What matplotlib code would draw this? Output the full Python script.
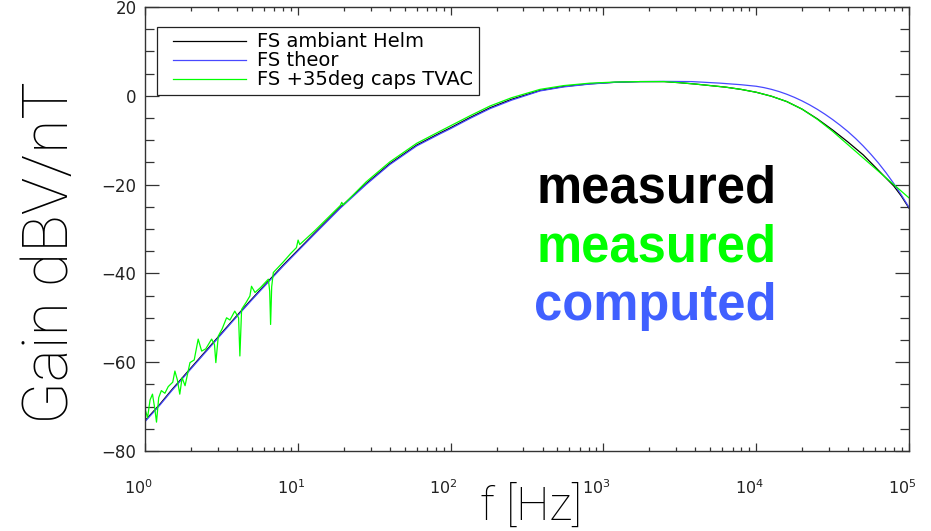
import matplotlib
matplotlib.use('Agg')
import matplotlib.pyplot as plt
import matplotlib.transforms as mtransforms
from matplotlib.lines import Line2D
from matplotlib.legend_handler import HandlerLine2D
from matplotlib.ticker import MultipleLocator, LogLocator, NullFormatter

# Gain curves (f in Hz, gain in dBV/nT)
f_helm = [1, 1.25, 1.5, 2, 2.5, 3, 4, 5, 6.6, 8, 10, 13, 19, 28, 40, 60, 85, 100,
          134, 181, 250, 385, 550, 817, 1200, 1737, 2500, 3160, 3980, 5010, 6310,
          7940, 10000, 12590, 15850, 19950, 25120, 31620, 39810, 50120, 63100,
          79430, 89130, 100000]
g_helm = [-73.2, -69.5, -66.2, -61.3, -57.5, -54.4, -49.5, -45.8, -41.3, -38.2, -34.8,
          -30.8, -25.1, -19.8, -15.3, -11.1, -8.4, -7.2, -4.9, -2.7, -0.8, 1.2, 2.1,
          2.7, 3.05, 3.2, 3.2, 2.95, 2.65, 2.3, 1.95, 1.45, 0.8, -0.1, -1.3, -3.0,
          -5.2, -7.7, -10.4, -13.3, -16.8, -20.3, -22.6, -25.3]

f_theor = [1, 1.25, 1.5, 2, 2.5, 3, 4, 5, 6.6, 8, 10, 13, 19, 28, 40, 60, 85, 100,
           134, 181, 250, 385, 550, 817, 1200, 1737, 2500, 3800, 5800, 7940, 10000,
           11220, 12590, 14130, 15850, 17780, 19950, 22390, 25120, 28180, 31620,
           35480, 39810, 44670, 50120, 56230, 63100, 70790, 79430, 89130, 100000]
g_theor = [-73.4, -69.7, -66.4, -61.5, -57.7, -54.6, -49.7, -46.0, -41.5, -38.4, -35.0,
           -31.0, -25.3, -20.0, -15.5, -11.3, -8.6, -7.4, -5.1, -2.9, -1.0, 1.1, 2.0,
           2.65, 3.05, 3.2, 3.25, 3.2, 2.85, 2.5, 2.15, 1.85, 1.45, 0.95, 0.35, -0.35,
           -1.15, -2.05, -3.05, -4.15, -5.35, -6.65, -8.05, -9.6, -11.3, -13.15,
           -15.15, -17.35, -19.75, -22.35, -25.15]

f_tvac = [1.0, 1.04, 1.08, 1.12, 1.16, 1.19, 1.23, 1.28, 1.35, 1.42, 1.52, 1.57, 1.63,
          1.69, 1.75, 1.83, 1.97, 2.1, 2.23, 2.35, 2.5, 2.73, 2.85, 2.91, 3.02, 3.2,
          3.42, 3.6, 3.87, 4.1, 4.18, 4.29, 4.6, 4.86, 4.98, 5.25, 5.7, 6.42, 6.55,
          6.64, 6.75, 6.92, 8.0, 9.0, 9.8, 10.05, 10.3, 13, 19, 19.4, 19.8, 28, 40,
          60, 85, 134, 181, 250, 385, 550, 817, 1200, 1737, 2500, 3160, 3980, 5010,
          6310, 7940, 10000, 12590, 15850, 19950, 25120, 31620, 39810, 50120, 63100,
          79430, 100000]
g_tvac = [-70.5, -72.5, -68.5, -67.2, -70.5, -73.5, -68.0, -66.4, -67.0, -65.5, -64.5,
          -62.0, -64.0, -67.2, -63.5, -65.3, -60.1, -59.5, -54.8, -57.5, -57.0, -54.8,
          -56.0, -60.1, -54.1, -52.5, -50.0, -50.5, -48.5, -50.0, -58.6, -48.1, -46.5,
          -45.1, -42.9, -44.3, -43.2, -41.3, -44.0, -51.5, -43.0, -39.8, -37.5, -35.5,
          -34.2, -32.5, -33.5, -30.3, -24.7, -24.0, -24.6, -19.4, -14.9, -10.7, -8.0,
          -4.5, -2.3, -0.45, 1.45, 2.3, 2.85, 3.1, 3.2, 3.2, 2.95, 2.65, 2.3, 1.95,
          1.45, 0.8, -0.1, -1.3, -3.0, -5.3, -8.0, -11.0, -14.0, -17.0, -20.0, -23.0]

labels = ['FS ambiant Helm', 'FS theor', 'FS +35deg caps TVAC']
colors = ['#000000', '#4848ff', '#00ff00']

plt.rcParams['font.family'] = ['DejaVu Sans']

fig = plt.figure(figsize=(9.31, 5.31), dpi=100, facecolor='white')
ax = fig.add_axes([0.1557, 0.1507, 0.8207, 0.8361])

ax.plot(f_helm, g_helm, color=colors[0], lw=0.9, label=labels[0])
ax.plot(f_theor, g_theor, color=colors[1], lw=0.9, label=labels[1])
ax.plot(f_tvac, g_tvac, color=colors[2], lw=0.9, label=labels[2])

ax.set_xscale('log')
ax.set_xlim(1, 1e5)
ax.set_ylim(-80, 20)
ax.yaxis.set_major_locator(MultipleLocator(20))
ax.yaxis.set_minor_locator(MultipleLocator(5))
ax.xaxis.set_major_locator(LogLocator(base=10, numticks=10))
ax.xaxis.set_minor_locator(LogLocator(base=10, subs=range(2, 10), numticks=20))
ax.xaxis.set_minor_formatter(NullFormatter())

for s in ax.spines.values():
    s.set_color('#333333')
    s.set_linewidth(1.0)

ax.tick_params(axis='both', which='both', direction='in', top=True, right=True,
               colors='#333333', labelcolor='#222222', width=0.9)
ax.tick_params(axis='y', which='major', length=10, labelsize=12, pad=6)
ax.tick_params(axis='y', which='minor', length=6.5)
ax.tick_params(axis='x', which='major', length=6, labelsize=11.5, pad=20)
ax.tick_params(axis='x', which='minor', length=3)
shift = mtransforms.ScaledTranslation(-7 / 100, 0, fig.dpi_scale_trans)
for lab in ax.get_xticklabels():
    lab.set_transform(lab.get_transform() + shift)

ax.set_xlabel('f [Hz]', fontsize=34, family='Roboto', fontweight='light')
ax.xaxis.set_label_coords(0.505, -0.074)
ax.set_ylabel('Gain dBV/nT', fontsize=45, family='Roboto', fontweight='light')
ax.yaxis.set_label_coords(-0.084, 0.447)

fs_leg = 14
leg = ax.legend(loc='upper left', bbox_to_anchor=(0.0157, 0.955), borderaxespad=0,
                fancybox=False, framealpha=1, edgecolor='#222222', handlelength=4.31,
                labelspacing=0.0, borderpad=0.28, handletextpad=0.57,
                prop={'family': 'DejaVu Sans', 'size': fs_leg},
                handler_map={Line2D: HandlerLine2D(xpad=0.54)})
leg.get_frame().set_linewidth(0.9)

big = {'family': 'Liberation Sans', 'fontweight': 'bold', 'fontsize': 36.5}
ax.text(0.827, 0.5596, 'measured', color='#000000', ha='right', va='baseline',
        transform=ax.transAxes, **big)
ax.text(0.827, 0.427, 'measured', color='#00ff00', ha='right', va='baseline',
        transform=ax.transAxes, **big)
ax.text(0.827, 0.294, 'computed', color='#4060ff', ha='right', va='baseline',
        transform=ax.transAxes, **big)

fig.savefig('out.png', dpi=100, facecolor='white')
